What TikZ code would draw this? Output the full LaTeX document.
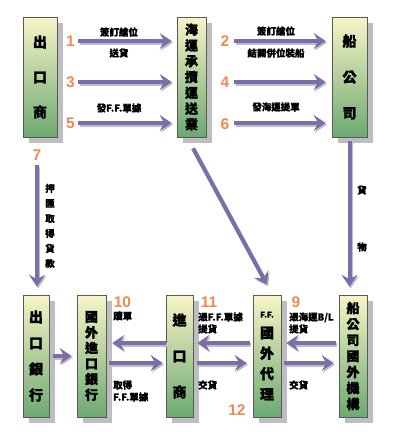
\documentclass[tikz,border=0pt]{standalone}
\usepackage{fontspec}
\newfontfamily\cjk{Noto Sans CJK TC}[FakeBold=1.6]
\newfontfamily\cjkl{Noto Sans CJK TC}[FakeBold=0.8]
\newfontfamily\numf{Liberation Sans}
\usetikzlibrary{arrows.meta,shadows,calc}
\definecolor{boxtop}{HTML}{F8F4C6}
\definecolor{boxbot}{HTML}{6DA972}
\definecolor{arrc}{HTML}{7B6EAA}
\definecolor{numc}{HTML}{F08A55}
\definecolor{shad}{HTML}{BDBDC2}
\begin{document}
\begin{tikzpicture}[x=1pt,y=-1pt,
  box/.style={draw=black!65, line width=0.6pt, top color=boxtop, bottom color=boxbot,
    inner sep=0pt, align=center, text=black,
    drop shadow={shadow xshift=6pt,shadow yshift=-6pt,fill=shad,opacity=1}},
  bigch/.style={font=\cjk\bfseries\fontsize{14}{#1}\selectfont},
  smch/.style={font=\cjk\bfseries\fontsize{13}{#1}\selectfont},
  arr/.style={draw=arrc, line width=4pt, -{Stealth[length=12pt,width=16pt,inset=4.5pt]},
    preaction={draw=shad, line width=4pt, transform canvas={xshift=1.2pt,yshift=-1.6pt}}},
  num/.style={text=numc, font=\numf\bfseries\fontsize{15.5}{15}\selectfont, inner sep=0pt},
  lab/.style={font=\cjkl\bfseries\fontsize{9.5}{12}\selectfont, inner sep=0pt},
]
\fill[white] (0,0) rectangle (408,432);
\useasboundingbox (0,0) rectangle (408,432);

% top row
\node[box, bigch=35, minimum width=34pt, minimum height=120pt] (ex) at (40,77) {出\\口\\商};
\node[box, smch=15.8, minimum width=29pt, minimum height=120pt] (hy) at (191.5,77) {海\\運\\承\\攬\\運\\送\\業};
\node[box, bigch=36, minimum width=35pt, minimum height=120pt] (gs) at (349.5,77) {船\\公\\司};

% bottom row
\node[box, bigch=26, minimum width=26pt, minimum height=122pt] (eb) at (36,356) {出\\口\\銀\\行};
\node[box, smch=15.6, minimum width=29pt, minimum height=122pt] (ib) at (91.5,356) {國\\外\\進\\口\\銀\\行};
\node[box, bigch=36, minimum width=27pt, minimum height=122pt] (im) at (179.5,356) {進\\口\\商};
\node[box, bigch=20.5, minimum width=28pt, minimum height=122pt] (ff) at (267,356) {{\fontsize{8}{10}\selectfont F.F.}\\國\\外\\代\\理};
\node[box, smch=16, minimum width=28pt, minimum height=122pt] (sb) at (353,356) {船\\公\\司\\國\\外\\機\\構};

% rows
\coordinate (rA) at (0,41);
\coordinate (rB) at (0,82);
\coordinate (rC) at (0,123);
\coordinate (rD) at (0,343);
\coordinate (rM) at (0,356);
\coordinate (rE) at (0,363);

% top arrows
\foreach \r in {rA,rB,rC}{
  \draw[arr] ($(ex.east |- \r)+(21,0)$) -- ($(hy.west |- \r)+(-5,0)$);
  \draw[arr] ($(hy.east |- \r)+(28,0)$) -- ($(gs.west |- \r)+(-6,0)$);
}
% verticals
\draw[arr] ($(eb.north |- ex.south)+(1,28)$) -- ($(eb.north)+(1,-8)$);
\draw[arr] ($(gs.south)+(0,4)$) -- ($(gs.south |- sb.north)+(0,-8)$);
\draw[arr] ($(hy.south)+(1.5,11)$) -- ($(ff.north)+(0,-10)$);

% bottom arrows
\draw[arr] ($(eb.east |- rM)+(4,0)$) -- ($(ib.west |- rM)+(-5,0)$);
\draw[arr] (im.west |- rD) -- ($(ib.east |- rD)+(6,0)$);
\draw[arr] ($(ib.east |- rE)+(3,0)$) -- ($(im.west |- rE)+(-3,0)$);
\draw[arr] ($(ff.west |- rD)+(-3,0)$) -- ($(im.east |- rD)+(4,0)$);
\draw[arr] ($(im.east |- rE)+(4,0)$) -- ($(ff.west |- rE)+(-6,0)$);
\draw[arr] ($(sb.west |- rD)+(-3,0)$) -- ($(ff.east |- rD)+(5,0)$);
\draw[arr] ($(ff.east |- rE)+(3,0)$) -- ($(sb.west |- rE)+(-5,0)$);

% numbers
\node[num] (n1) at (70.5,41) {1};
\node[num] (n3) at (70.5,82) {3};
\node[num] (n5) at (70.5,123) {5};
\node[num] (n2) at (225,41) {2};
\node[num] (n4) at (225,82) {4};
\node[num] (n6) at (225,124) {6};
\node[num] (n7) at (37,155) {7};
\node[num] (n10) at (122.5,302) {10};
\node[num] (n11) at (209,302) {11};
\node[num] (n9) at (296,302) {9};
\node[num] (n12) at (237,410) {12};

% labels
\node[lab] (l1) at (119,32) {簽訂艙位};
\node[lab] (l2) at (119,53) {送貨};
\node[lab] (l3) at (119,108) {發F.F.單據};
\node[lab] (l4) at (276,31) {簽訂艙位};
\node[lab] (l5) at (276,53) {結關併位裝船};
\node[lab] (l6) at (276,107) {發海運提單};
\node[lab, align=center, font=\cjkl\bfseries\fontsize{9.5}{15}\selectfont] (l7) at (50,226) {押\\匯\\取\\得\\貨\\款};
\node[lab] (l8) at (362,190) {貨};
\node[lab] (l9) at (362,247) {物};
\node[lab, anchor=west] (l10) at (113,316) {贖單};
\node[lab, anchor=west, align=left] (l11) at (113,391) {取得\\F.F.單據};
\node[lab, anchor=west, align=left] (l12) at (198,323) {憑F.F.單據\\提貨};
\node[lab, anchor=west] (l13) at (198,385) {交貨};
\node[lab, anchor=west, align=left] (l14) at (289,323) {憑海運B/L\\提貨};
\node[lab, anchor=west] (l15) at (289,385) {交貨};
\end{tikzpicture}
\end{document}
